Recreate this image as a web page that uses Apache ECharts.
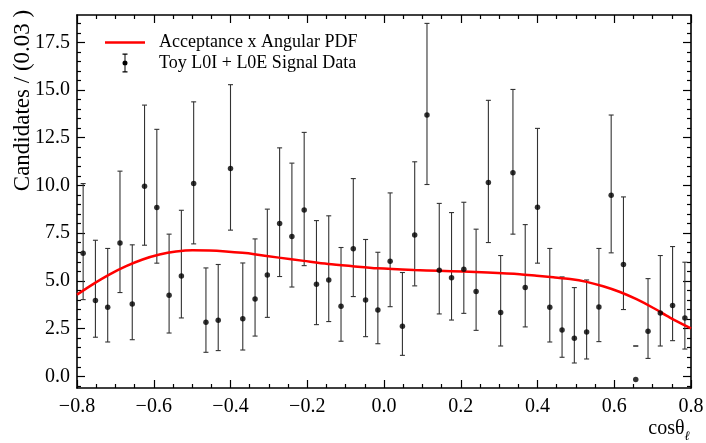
<!DOCTYPE html>
<html><head><meta charset="utf-8">
<script src="https://cdn.jsdelivr.net/npm/echarts@6/dist/echarts.min.js"></script>
<style>html,body{margin:0;padding:0;background:#fff}#c{width:706px;height:443px}</style>
</head><body><div id="c"></div><script>
const binCenters = [-0.784,-0.752,-0.720,-0.688,-0.656,-0.624,-0.592,-0.560,-0.528,-0.496,-0.464,-0.432,-0.400,-0.368,-0.336,-0.304,-0.272,-0.240,-0.208,-0.176,-0.144,-0.112,-0.080,-0.048,-0.016,0.016,0.048,0.080,0.112,0.144,0.176,0.208,0.240,0.272,0.304,0.336,0.368,0.400,0.432,0.464,0.496,0.528,0.560,0.592,0.624,0.656,0.688,0.720,0.752,0.784];
const counts = [6.45,3.97,3.62,6.99,3.79,9.96,8.85,4.25,5.26,10.10,2.83,2.94,10.89,3.02,4.05,5.31,8.01,7.32,8.72,4.82,5.05,3.67,6.68,4.00,3.48,6.03,2.62,7.41,13.69,5.56,5.16,5.61,4.44,10.16,3.34,10.66,4.65,8.86,3.62,2.43,1.99,2.32,3.63,9.49,5.86,-0.16,2.36,3.32,3.71,3.06];
const errHigh = [10.10,7.13,6.70,10.75,6.89,14.21,12.94,7.45,8.70,14.38,5.68,5.86,15.28,5.94,7.20,8.76,11.97,11.17,12.78,8.16,8.41,6.75,10.36,7.17,6.50,9.61,5.44,11.24,18.49,9.06,8.58,9.12,7.71,14.46,6.33,15.03,7.95,12.99,6.70,5.21,4.65,5.05,6.70,13.69,9.40,1.59,5.12,6.33,6.80,5.98];
const errLow = [4.02,2.05,1.80,4.39,1.92,6.87,5.93,2.27,3.06,6.94,1.26,1.35,7.66,1.38,2.11,3.09,5.23,4.68,5.80,2.71,2.87,1.84,4.18,2.08,1.71,3.65,1.10,4.74,10.05,3.27,2.95,3.30,2.41,7.01,1.59,7.45,2.59,5.93,1.80,1.00,0.70,0.91,1.82,6.47,3.50,1.59,0.94,1.59,1.87,1.43];
const curveX = [-0.8,-0.759,-0.716,-0.672,-0.629,-0.585,-0.542,-0.499,-0.455,-0.412,-0.369,-0.338,-0.274,-0.209,-0.146,-0.082,-0.017,0.078,0.143,0.207,0.270,0.354,0.398,0.441,0.485,0.528,0.571,0.615,0.658,0.702,0.745,0.8];
const curveY = [4.28,4.82,5.33,5.77,6.12,6.38,6.54,6.61,6.59,6.54,6.47,6.40,6.22,6.05,5.89,5.77,5.66,5.57,5.53,5.49,5.44,5.35,5.27,5.19,5.10,4.95,4.72,4.42,4.04,3.58,3.08,2.51];
const xMajorTicks = [-0.8,-0.6,-0.4,-0.2,0,0.2,0.4,0.6,0.8];
const xMinorTicks = [-0.75,-0.7,-0.65,-0.55,-0.5,-0.45,-0.35,-0.3,-0.25,-0.15,-0.1,-0.05,0.05,0.1,0.15,0.25,0.3,0.35,0.45,0.5,0.55,0.65,0.7,0.75];
const yMajorTicks = [0,2.5,5,7.5,10,12.5,15,17.5];
const yMinorTicks = [-0.5,0.5,1,1.5,2,3,3.5,4,4.5,5.5,6,6.5,7,8,8.5,9,9.5,10.5,11,11.5,12,13,13.5,14,14.5,15.5,16,16.5,17,18,18.5];

const FONT = "'Liberation Serif', 'DejaVu Serif', serif";
const X_MIN = -0.8, X_MAX = 0.8, Y_MIN = -0.61, Y_MAX = 18.93;
const curveName = 'Acceptance x Angular PDF';
const dataName = 'Toy L0I + L0E Signal Data';

function fmt(v){ const s = (Math.abs(v) < 1e-9 ? 0 : v).toFixed(1); return s.replace('-', '\u2212'); }

function mkAxis(kind, pos, ticks, len, main){
  return {
    type: 'value', position: pos, gridIndex: 0,
    min: kind === 'x' ? X_MIN : Y_MIN, max: kind === 'x' ? X_MAX : Y_MAX,
    axisLine: {show: main, onZero: false, lineStyle: {color: '#000', width: 1.6}},
    axisTick: {show: true, inside: true, length: len, customValues: ticks, lineStyle: {color: '#000', width: 1.2}},
    axisLabel: {show: false},
    splitLine: {show: false}
  };
}

const xAxes = [
  mkAxis('x','bottom',xMajorTicks,8,true),
  mkAxis('x','bottom',xMinorTicks,4,false),
  mkAxis('x','top',xMajorTicks,8,true),
  mkAxis('x','top',xMinorTicks,4,false)
];
xAxes[0].axisLabel = {show: true, customValues: xMajorTicks, formatter: fmt, fontFamily: FONT, fontSize: 20, color: '#000', margin: 9};
xAxes[0].name = '{a|cos\u03b8}{b|\u2113}';
xAxes[0].nameLocation = 'end';
xAxes[0].nameGap = -1;
xAxes[0].nameMoveOverlap = false;
xAxes[0].nameTextStyle = {align: 'right', verticalAlign: 'top', padding: [31,0,0,0],
  rich: {a: {fontFamily: FONT, fontSize: 20, color: '#000', verticalAlign: 'bottom', padding: [0,0,4,0]},
         b: {fontFamily: FONT, fontSize: 13, color: '#000', verticalAlign: 'bottom', fontStyle: 'italic'}}};

const yAxes = [
  mkAxis('y','left',yMajorTicks,8,true),
  mkAxis('y','left',yMinorTicks,4,false),
  mkAxis('y','right',yMajorTicks,8,true),
  mkAxis('y','right',yMinorTicks,4,false)
];
yAxes[0].axisLabel = {show: true, customValues: yMajorTicks, formatter: fmt, fontFamily: FONT, fontSize: 20, color: '#000', margin: 7};
yAxes[0].name = 'Candidates / (0.03 )';
yAxes[0].nameLocation = 'middle';
yAxes[0].nameGap = 43;
yAxes[0].nameMoveOverlap = false;
yAxes[0].nameTextStyle = {fontFamily: FONT, fontSize: 23, color: '#000', padding: [0,0,0,202]};

const points = binCenters.map((x,i) => [x, counts[i]]);
const bars = binCenters.map((x,i) => [x, errLow[i], errHigh[i]]);
const curve = curveX.map((x,i) => [x, curveY[i]]);

const lineIcon = 'path://M0,0H40V2.6H0Z';
const dataIcon = 'path://M0.5,0H5.5V1.2H0.5Z M2.5,1.2H3.5V7H2.5Z M5.5,9.5A2.5,2.5,0,1,1,0.5,9.5A2.5,2.5,0,1,1,5.5,9.5Z M2.5,12H3.5V17.8H2.5Z M0.5,17.8H5.5V19H0.5Z';

const chart = echarts.init(document.getElementById('c'), null, {renderer: 'canvas'});
chart.setOption({
  animation: false,
  backgroundColor: '#fff',
  grid: {left: 77, right: 15, top: 15, bottom: 55, containLabel: false, outerBoundsMode: 'none'},
  legend: {
    orient: 'vertical', left: 100, top: 28.5, itemWidth: 40, itemHeight: 19, itemGap: 2,
    selectedMode: false,
    itemStyle: {borderWidth: 0},
    textStyle: {fontFamily: FONT, fontSize: 18, color: '#000', padding: [0,0,0,9]},
    data: [{name: curveName, icon: lineIcon}, {name: dataName, icon: dataIcon}]
  },
  xAxis: xAxes,
  yAxis: yAxes,
  series: [
    {
      name: dataName, type: 'custom', xAxisIndex: 0, yAxisIndex: 0, z: 2,
      itemStyle: {color: '#000'},
      encode: {x: 0, y: [1,2]},
      data: bars,
      renderItem: function(params, api){
        const x = api.value(0), lo = api.value(1), hi = api.value(2);
        const pLo = api.coord([x, lo]), pHi = api.coord([x, hi]);
        const w = 2.5;
        const st = {stroke: '#333', lineWidth: 1.1};
        return {type: 'group', children: [
          {type: 'line', shape: {x1: pLo[0], y1: pLo[1], x2: pHi[0], y2: pHi[1]}, style: st},
          {type: 'line', shape: {x1: pHi[0]-w, y1: pHi[1], x2: pHi[0]+w, y2: pHi[1]}, style: st},
          {type: 'line', shape: {x1: pLo[0]-w, y1: pLo[1], x2: pLo[0]+w, y2: pLo[1]}, style: st}
        ]};
      }
    },
    {
      name: curveName, type: 'line', xAxisIndex: 0, yAxisIndex: 0, z: 3,
      data: curve, showSymbol: false, smooth: 0.3,
      itemStyle: {color: '#ff0000'},
      lineStyle: {color: '#ff0000', width: 2.5}
    },
    {
      name: dataName, type: 'scatter', xAxisIndex: 0, yAxisIndex: 0, z: 4,
      data: points, symbol: 'circle', symbolSize: 5.5,
      itemStyle: {color: '#000'}
    }
  ]
});
</script></body></html>
